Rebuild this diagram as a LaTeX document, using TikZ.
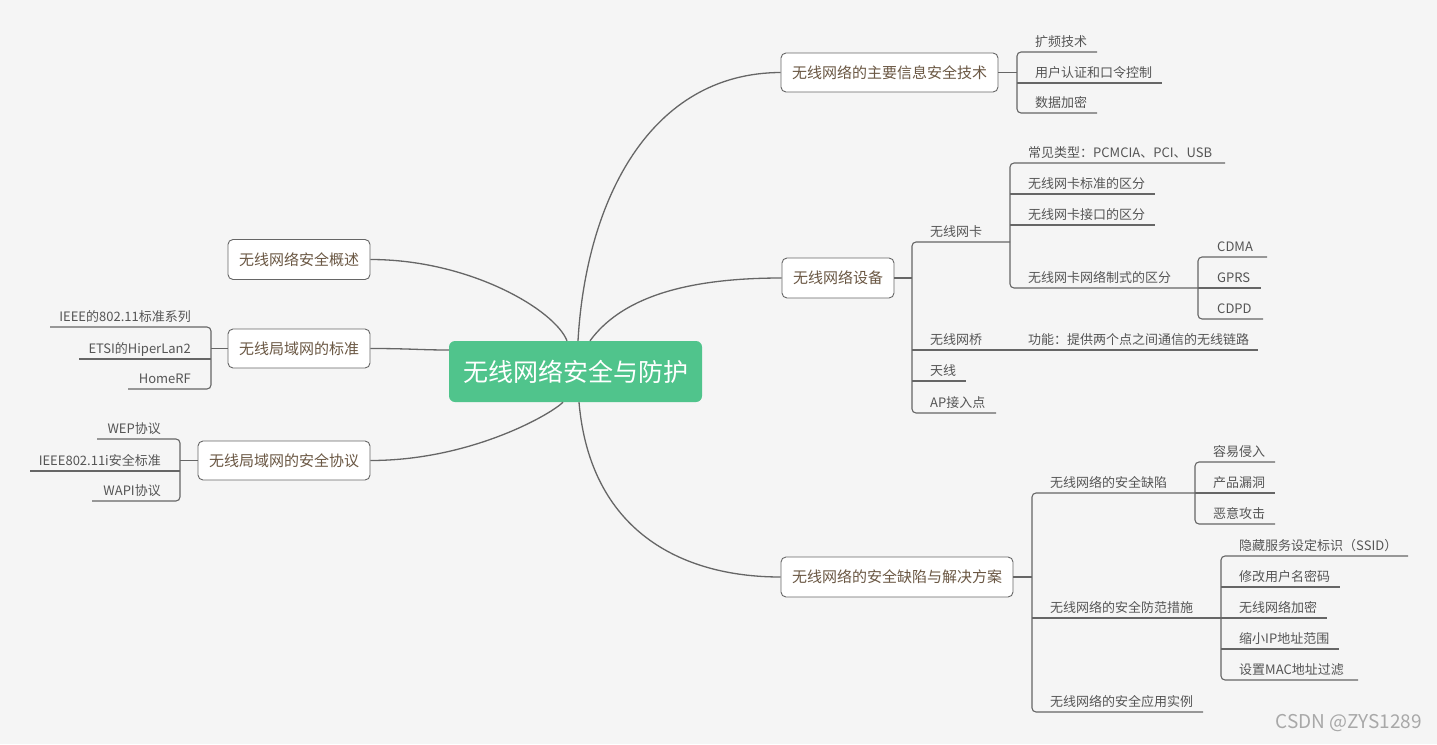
\documentclass[tikz,border=0pt]{standalone}
\usepackage{fontspec}
\setmainfont{Noto Sans CJK SC}
\definecolor{bg}{HTML}{F5F5F5}
\definecolor{ln}{HTML}{666666}
\definecolor{rootc}{HTML}{50C48C}
\definecolor{mtxt}{HTML}{6A5743}
\definecolor{ctxt}{HTML}{555555}
\definecolor{wmc}{HTML}{A8A8A8}
\begin{document}
\begin{tikzpicture}[x=1pt,y=-1pt,
  conn/.style={draw=ln, line width=1.1pt},
  curve/.style={draw=ln, line width=1.3pt},
  mainbox/.style={draw=ln, line width=0.9pt, fill=white, rounded corners=5pt, text=mtxt, font=\fontsize{15}{18}\selectfont, inner sep=0pt, minimum height=39pt},
  leaf/.style={text=ctxt, font=\fontsize{13}{16}\selectfont, inner sep=0pt},
  bracket/.style={conn, rounded corners=4pt},
]
\fill[bg] (0,0) rectangle (1437,744);
\useasboundingbox (0,0) rectangle (1437,744);

% main nodes
\node[fill=rootc, rounded corners=6pt, minimum width=253pt, minimum height=61pt, inner sep=0pt, text=white, font=\fontsize{25}{30}\selectfont] (root) at (575.5,371.5) {无线网络安全与防护};
\node[mainbox, minimum width=217pt] (n1) at (889.5,72.5) {无线网络的主要信息安全技术};
\node[mainbox, minimum width=112pt, minimum height=40pt] (n2) at (838,278) {无线网络设备};
\node[mainbox, minimum width=232pt, minimum height=40pt] (n3) at (897,577) {无线网络的安全缺陷与解决方案};
\node[mainbox, minimum width=142pt, minimum height=40pt] (n4) at (299,259.5) {无线网络安全概述};
\node[mainbox, minimum width=142pt] (n5) at (299,348.5) {无线局域网的标准};
\node[mainbox, minimum width=172pt] (n6) at (284,460.5) {无线局域网的安全协议};

% curves from root
\draw[curve] ([xshift=2.5pt]root.north) .. controls (586,200) and (650,73) .. (n1.west);
\draw[curve] ([xshift=14.5pt]root.north) .. controls (620,300) and (680,278) .. (n2.west);
\draw[curve] ([xshift=3.5pt]root.south) .. controls (590,530) and (680,577) .. (n3.west);
\draw[curve] (n4.east) .. controls (470,259.5) and (555,310) .. ([xshift=-8.5pt]root.north);
\draw[curve] (n5.east) .. controls (410,348.5) and (420,350) .. ([yshift=21.5pt]root.west);
\draw[curve] (n6.east) .. controls (470,460.5) and (550,415) .. ([xshift=-12.5pt]root.south);

% group A: 主要信息安全技术
\foreach \t/\y [count=\i] in {扩频技术/52,用户认证和口令控制/83,数据加密/113}
  \node[leaf,anchor=base west] (a\i) at (1035,\y-6) {\t};
\draw[conn] (n1.east) -- (1017,72.5);
\draw[bracket] (1097,52) -- (1017,52) -- (1017,113) -- (1097,113);
\draw[conn] (1017,83) -- (1162,83);

% group B: 无线网络设备
\foreach \t/\y [count=\i] in {无线网卡/242,无线网桥/350,天线/381,AP接入点/413}
  \node[leaf,anchor=base west] (b\i) at (930,\y-6) {\t};
\draw[conn] (n2.east) -- (912,278);
\draw[bracket] (1010,242) -- (912,242) -- (912,413) -- (996,413);
\draw[conn] (912,381) -- (966,381);
\draw[conn] (912,350) -- (1258,350);
\node[leaf,anchor=base west] (f1) at (1028,344) {功能：提供两个点之间通信的无线链路};

% group C: 无线网卡
\foreach \t/\y [count=\i] in {常见类型：PCMCIA、PCI、USB/163,无线网卡标准的区分/194,无线网卡接口的区分/225,无线网卡网络制式的区分/288}
  \node[leaf,anchor=base west] (c\i) at (1028,\y-6) {\t};
\draw[bracket] (1225,163) -- (1010,163) -- (1010,288) -- (1198,288);
\draw[conn] (1010,194) -- (1155,194);
\draw[conn] (1010,225) -- (1155,225);

% group D: 网络制式
\foreach \t/\y [count=\i] in {CDMA/257,GPRS/288,CDPD/319}
  \node[leaf,anchor=base west] (d\i) at (1217,\y-6) {\t};
\draw[bracket] (1267,257) -- (1198,257) -- (1198,319) -- (1263,319);
\draw[conn] (1198,288) -- (1261,288);

% group E: 安全缺陷与解决方案
\foreach \t/\y [count=\i] in {无线网络的安全缺陷/493,无线网络的安全防范措施/618,无线网络的安全应用实例/712}
  \node[leaf,anchor=base west] (e\i) at (1050,\y-6) {\t};
\draw[conn] (n3.east) -- (1032,577);
\draw[bracket] (1195,493) -- (1032,493) -- (1032,712) -- (1203,712);
\draw[conn] (1032,618) -- (1221,618);

% group F: 安全缺陷
\foreach \t/\y [count=\i] in {容易侵入/462,产品漏洞/493,恶意攻击/524}
  \node[leaf,anchor=base west] (g\i) at (1213,\y-6) {\t};
\draw[bracket] (1275,462) -- (1195,462) -- (1195,524) -- (1275,524);
\draw[conn] (1195,493) -- (1275,493);

% group G: 安全防范措施
\foreach \t/\y [count=\i] in {隐藏服务设定标识（SSID）/556,修改用户名密码/587,无线网络加密/618,缩小IP地址范围/649,设置MAC地址过滤/680}
  \node[leaf,anchor=base west] (h\i) at (1239,\y-6) {\t};
\draw[bracket] (1408,556) -- (1221,556) -- (1221,680) -- (1358,680);
\draw[conn] (1221,587) -- (1340,587);
\draw[conn] (1221,618) -- (1327,618);
\draw[conn] (1221,649) -- (1339,649);

% group H: 无线局域网的标准
\foreach \t/\y [count=\i] in {IEEE的802.11标准系列/327,ETSI的HiperLan2/359,HomeRF/389}
  \node[leaf,anchor=base east] (l\i) at (191,\y-6) {\t};
\draw[conn] (n5.west) -- (211,348.5);
\draw[bracket] (50,327) -- (211,327) -- (211,389) -- (128,389);
\draw[conn] (211,359) -- (79,359);

% group I: 安全协议
\foreach \t/\y [count=\i] in {WEP协议/439,IEEE802.11i安全标准/471,WAPI协议/501}
  \node[leaf,anchor=base east] (p\i) at (161,\y-6) {\t};
\draw[conn] (n6.west) -- (180,460.5);
\draw[bracket] (97,439) -- (180,439) -- (180,501) -- (92,501);
\draw[conn] (180,471) -- (30,471);

% watermark
\node[text=wmc, font=\fontsize{19}{22}\selectfont, anchor=east, inner sep=0pt] (wm) at (1422,723) {CSDN @ZYS1289};
\end{tikzpicture}
\end{document}
